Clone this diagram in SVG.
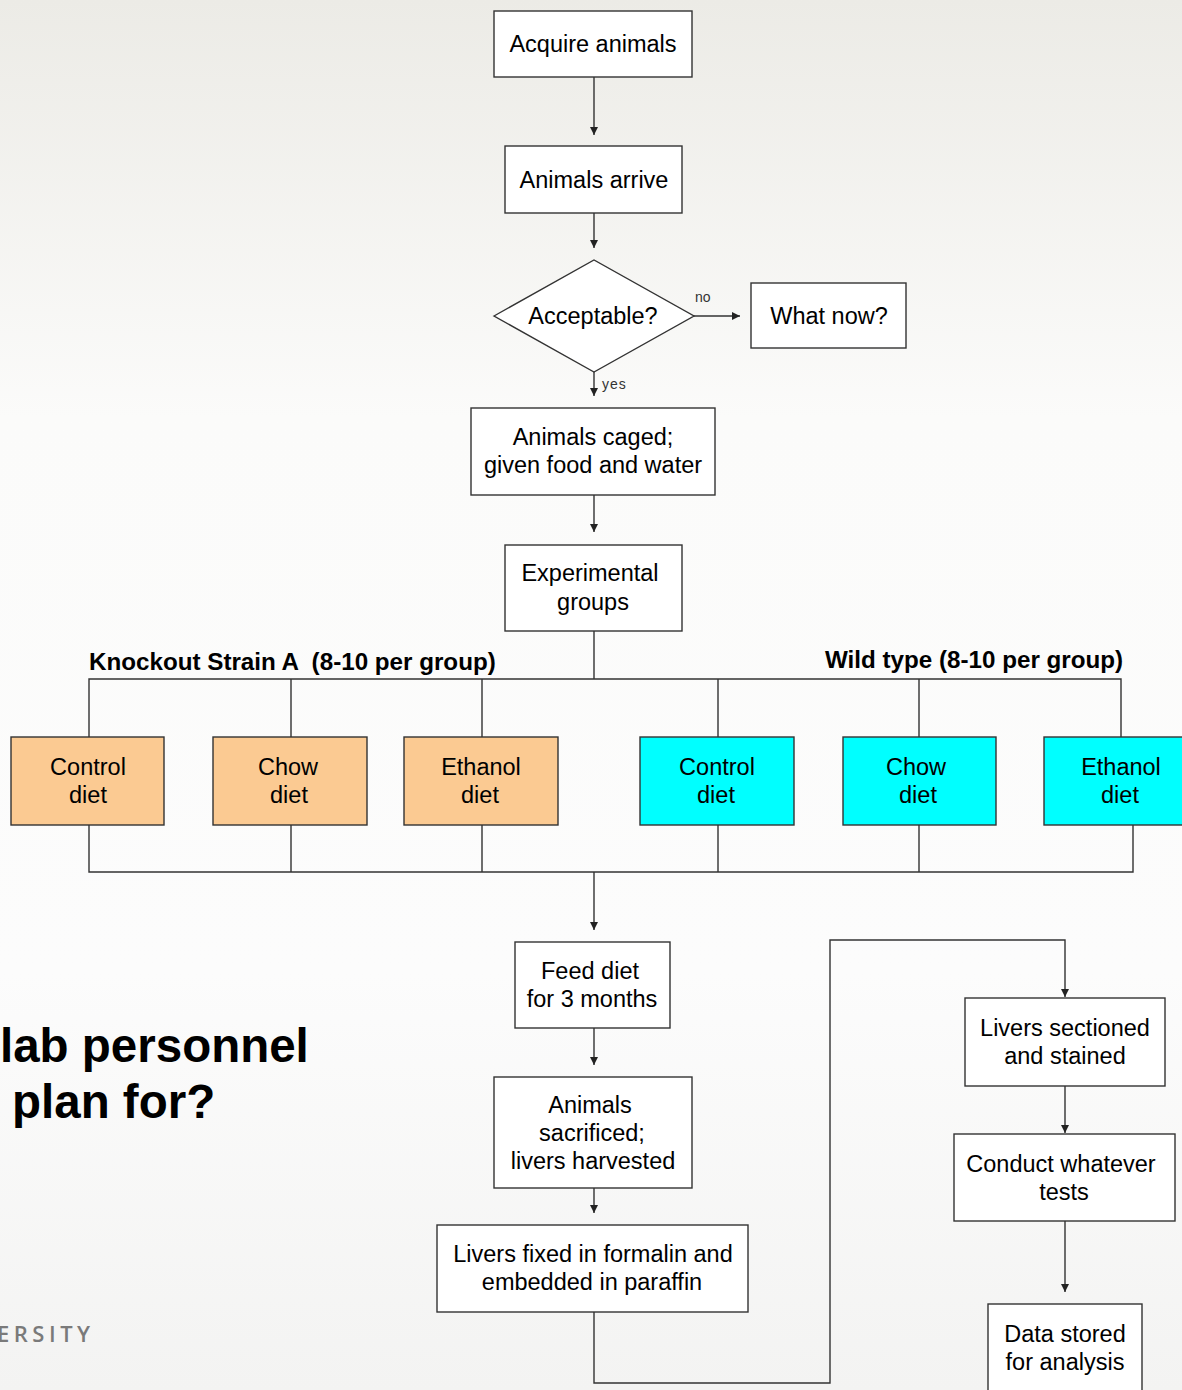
<svg xmlns="http://www.w3.org/2000/svg" width="1182" height="1390" viewBox="0 0 1182 1390">
<style>
.box{fill:#ffffff;stroke:#333333;stroke-width:1.4}
.ko{fill:#FBCA92;stroke:#333333;stroke-width:1.4}
.wt{fill:#00FFFF;stroke:#333333;stroke-width:1.4}
.t{font-family:"Liberation Sans",Arial,sans-serif;font-size:23.5px;fill:#000;text-anchor:middle}
.lbl{font-family:"Liberation Sans",Arial,sans-serif;font-size:24.2px;font-weight:bold;fill:#000}
.small{font-family:"Liberation Sans",Arial,sans-serif;font-size:14px;fill:#333}
.big{font-family:"Liberation Sans",Arial,sans-serif;font-size:47.5px;font-weight:bold;fill:#000}
.uni{font-family:"Open Sans","Liberation Sans",sans-serif;font-size:22px;font-weight:600;fill:#7a7a7a;letter-spacing:4.5px}
.ln{fill:none;stroke:#333333;stroke-width:1.4}
</style>
<defs>
<linearGradient id="bg" x1="0" y1="0" x2="0" y2="1">
<stop offset="0" stop-color="#ecebe6"/>
<stop offset="0.3" stop-color="#fbfbfa"/>
<stop offset="0.7" stop-color="#fcfcfc"/>
<stop offset="1" stop-color="#f3f3f2"/>
</linearGradient>
<marker id="ah" viewBox="0 0 10 10" refX="10" refY="5" markerWidth="10" markerHeight="8" markerUnits="userSpaceOnUse" orient="auto">
<path d="M0,0 L10,5 L0,10 z" fill="#222"/>
</marker>
</defs>
<rect x="0" y="0" width="1182" height="1390" fill="url(#bg)"/>

<g id="side-text">
<text class="big" x="0" y="1062">lab personnel</text>
<text class="big" x="12" y="1118">plan for?</text>
<text class="uni" x="-3" y="1342">ERSITY</text>
</g>

<g id="connectors">
<path class="ln" d="M594,77 V135" marker-end="url(#ah)"/>
<path class="ln" d="M594,213 V248" marker-end="url(#ah)"/>
<path class="ln" d="M694,316 H740" marker-end="url(#ah)"/>
<path class="ln" d="M594,372 V396" marker-end="url(#ah)"/>
<path class="ln" d="M594,495 V532" marker-end="url(#ah)"/>
<path class="ln" d="M594,631 V679"/>
<path class="ln" d="M89,737 V679 H1121 V737"/>
<path class="ln" d="M291,679 V737 M482,679 V737 M718,679 V737 M919,679 V737"/>
<path class="ln" d="M89,825 V872 H1133 V825"/>
<path class="ln" d="M291,825 V872 M482,825 V872 M718,825 V872 M919,825 V872"/>
<path class="ln" d="M594,872 V930" marker-end="url(#ah)"/>
<path class="ln" d="M594,1028 V1065" marker-end="url(#ah)"/>
<path class="ln" d="M594,1188 V1213" marker-end="url(#ah)"/>
<path class="ln" d="M594,1312 V1383 H830 V940 H1065 V997" marker-end="url(#ah)"/>
<path class="ln" d="M1065,1086 V1133" marker-end="url(#ah)"/>
<path class="ln" d="M1065,1221 V1292" marker-end="url(#ah)"/>
<text class="small" x="695" y="302">no</text>
<text class="small" x="602" y="389" letter-spacing="1">yes</text>
</g>

<g id="labels">
<text class="lbl" x="89" y="670" xml:space="preserve">Knockout Strain A  (8-10 per group)</text>
<text class="lbl" x="825" y="668">Wild type (8-10 per group)</text>
</g>

<g id="acquire">
<rect class="box" x="494" y="11" width="198" height="66"/>
<text class="t" x="593" y="52">Acquire animals</text>
</g>
<g id="arrive">
<rect class="box" x="505" y="146" width="177" height="67"/>
<text class="t" x="594" y="188">Animals arrive</text>
</g>
<g id="acceptable">
<polygon class="box" points="494,316 594,260 694,316 594,372"/>
<text class="t" x="593" y="324">Acceptable?</text>
</g>
<g id="whatnow">
<rect class="box" x="751" y="283" width="155" height="65"/>
<text class="t" x="829" y="324">What now?</text>
</g>
<g id="caged">
<rect class="box" x="471" y="408" width="244" height="87"/>
<text class="t" x="593" y="445">Animals caged;</text>
<text class="t" x="593" y="473">given food and water</text>
</g>
<g id="groups">
<rect class="box" x="505" y="545" width="177" height="86"/>
<text class="t" x="590" y="581">Experimental</text>
<text class="t" x="593" y="610">groups</text>
</g>

<g id="ko-control">
<rect class="ko" x="11" y="737" width="153" height="88"/>
<text class="t" x="88" y="775">Control</text>
<text class="t" x="88" y="803">diet</text>
</g>
<g id="ko-chow">
<rect class="ko" x="213" y="737" width="154" height="88"/>
<text class="t" x="288" y="775">Chow</text>
<text class="t" x="289" y="803">diet</text>
</g>
<g id="ko-ethanol">
<rect class="ko" x="404" y="737" width="154" height="88"/>
<text class="t" x="481" y="775">Ethanol</text>
<text class="t" x="480" y="803">diet</text>
</g>
<g id="wt-control">
<rect class="wt" x="640" y="737" width="154" height="88"/>
<text class="t" x="717" y="775">Control</text>
<text class="t" x="716" y="803">diet</text>
</g>
<g id="wt-chow">
<rect class="wt" x="843" y="737" width="153" height="88"/>
<text class="t" x="916" y="775">Chow</text>
<text class="t" x="918" y="803">diet</text>
</g>
<g id="wt-ethanol">
<rect class="wt" x="1044" y="737" width="150" height="88"/>
<text class="t" x="1121" y="775">Ethanol</text>
<text class="t" x="1120" y="803">diet</text>
</g>

<g id="feed">
<rect class="box" x="515" y="942" width="155" height="86"/>
<text class="t" x="590" y="979">Feed diet</text>
<text class="t" x="592" y="1007">for 3 months</text>
</g>
<g id="sacrificed">
<rect class="box" x="494" y="1077" width="198" height="111"/>
<text class="t" x="590" y="1113">Animals</text>
<text class="t" x="592" y="1141">sacrificed;</text>
<text class="t" x="593" y="1169">livers harvested</text>
</g>
<g id="fixed">
<rect class="box" x="437" y="1225" width="311" height="87"/>
<text class="t" x="593" y="1262">Livers fixed in formalin and</text>
<text class="t" x="592" y="1290">embedded in paraffin</text>
</g>
<g id="sectioned">
<rect class="box" x="965" y="998" width="200" height="88"/>
<text class="t" x="1065" y="1036">Livers sectioned</text>
<text class="t" x="1065" y="1064">and stained</text>
</g>
<g id="tests">
<rect class="box" x="954" y="1134" width="221" height="87"/>
<text class="t" x="1061" y="1172">Conduct whatever</text>
<text class="t" x="1064" y="1200">tests</text>
</g>
<g id="data">
<rect class="box" x="988" y="1304" width="154" height="100"/>
<text class="t" x="1065" y="1342">Data stored</text>
<text class="t" x="1065" y="1370">for analysis</text>
</g>
</svg>
